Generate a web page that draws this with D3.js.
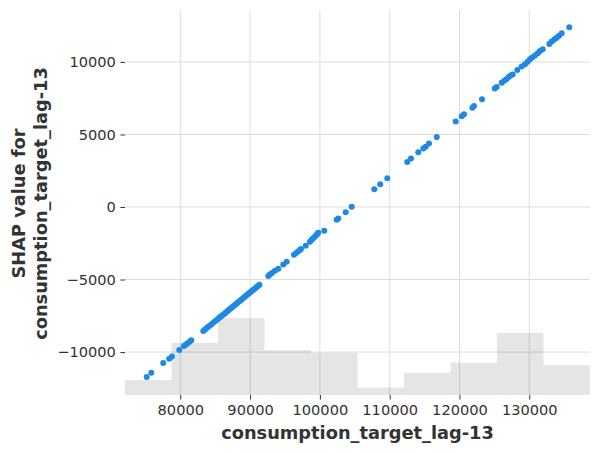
<!DOCTYPE html>
<html>
<head>
<meta charset="utf-8">
<script src="https://cdn.jsdelivr.net/npm/d3@7"></script>
<style>
	body { margin: 0; background: #fff; }
	text { font-family: "DejaVu Sans", sans-serif; }
</style>
</head>
<body>
<div id="chart"></div>
<script>
// feature value (x) and SHAP value (y) of each sample
const featureValues = [
	75190, 75850, 77560, 78420, 78810, 79860, 80530, 80820, 81100, 81390, 81580,
	83300, 83540, 83820, 84110, 84400, 84680, 84970, 85260, 85540, 85760, 85980,
	86230, 86450, 86700, 86920, 87150, 87400, 87610, 87860, 88090, 88320, 88560,
	88780, 89020, 89250, 89480, 89720, 89950, 90200, 90430, 90660, 90900, 91120, 91340,
	92610, 92850, 93130, 93560, 94040, 94760, 95240, 96290, 96580, 96860, 97150, 97290,
	97970, 98580, 98800, 99010, 99230, 99440, 99630, 99770, 100630, 102410, 102640,
	103700, 104560, 107800, 108650, 109660, 112520, 113050, 114100, 114820, 115160,
	115630, 116740, 119460, 120320, 120650, 121840, 122080, 123230, 125050, 125330,
	126050, 126420, 126760, 127090, 127380, 127620, 128280, 128910, 129390, 129770,
	130100, 130430, 130820, 131210, 131530, 131920, 132870, 133210, 133580, 133930,
	134260, 134640, 135730
];
const shapValues = [
	-11720, -11430, -10760, -10460, -10300, -9850, -9590, -9480, -9370, -9260, -9180,
	-8540, -8450, -8330, -8220, -8110, -7990, -7880, -7770, -7660, -7570, -7480,
	-7390, -7300, -7200, -7110, -7020, -6920, -6840, -6740, -6650, -6550, -6460,
	-6370, -6280, -6190, -6090, -6000, -5910, -5810, -5720, -5630, -5530, -5440, -5360,
	-4760, -4660, -4550, -4400, -4260, -3970, -3770, -3300, -3180, -3070, -2960, -2900,
	-2680, -2390, -2280, -2170, -2060, -1960, -1860, -1780, -1640, -880, -800,
	-360, 10, 1230, 1570, 1990, 3110, 3340, 3780, 4030, 4160,
	4370, 4830, 5890, 6260, 6400, 6850, 6970, 7430, 8160, 8280,
	8570, 8710, 8830, 8970, 9080, 9130, 9450, 9680, 9840, 10020,
	10190, 10300, 10440, 10600, 10760, 10880, 11240, 11400, 11540, 11670,
	11810, 11980, 12390
];

// background histogram of the feature
const histEdges = [72080, 78740, 85400, 92070, 98730, 105390, 112050, 118710, 125370, 132030, 138700];
const histCounts = [6, 21, 31, 18, 17, 3, 9, 13, 25, 12];

const xTicks = [80000, 90000, 100000, 110000, 120000, 130000];
const yTicks = [-10000, -5000, 0, 5000, 10000];
const yDomain = [-12960, 13580];

const xLabel = "consumption_target_lag-13";
const yLabelLines = ["SHAP value for", "consumption_target_lag-13"];

const width = 599, height = 453;
const margin = {left: 125, right: 9, top: 10, bottom: 58};
const innerBottom = height - margin.bottom;
const innerRight = width - margin.right;

const x = d3.scaleLinear()
	.domain([histEdges[0], histEdges[histEdges.length - 1]])
	.range([margin.left, innerRight]);

const y = d3.scaleLinear()
	.domain(yDomain)
	.range([innerBottom, margin.top]);

// histogram uses its own y axis: 0..number of samples
const total = d3.sum(histCounts);
const yHist = d3.scaleLinear()
	.domain([0, total])
	.range([innerBottom, margin.top]);

const svg = d3.select("#chart")
	.append("svg")
	.attr("width", width)
	.attr("height", height);

// grid
const grid = svg.append("g")
	.attr("stroke", "#dddddd")
	.attr("stroke-width", 1);

grid.selectAll(".gx")
	.data(xTicks).enter()
	.append("line")
	.attr("x1", d => x(d)).attr("x2", d => x(d))
	.attr("y1", margin.top).attr("y2", innerBottom);

grid.selectAll(".gy")
	.data(yTicks).enter()
	.append("line")
	.attr("x1", margin.left).attr("x2", innerRight)
	.attr("y1", d => y(d)).attr("y2", d => y(d));

// histogram bars
svg.append("g")
	.attr("fill", "#000")
	.attr("fill-opacity", 0.1)
	.selectAll("rect")
	.data(histCounts).enter()
	.append("rect")
	.attr("x", (d, i) => x(histEdges[i]))
	.attr("width", (d, i) => x(histEdges[i + 1]) - x(histEdges[i]))
	.attr("y", d => yHist(d))
	.attr("height", d => innerBottom - yHist(d));

// scatter
svg.append("g")
	.attr("fill", "#1E88E5")
	.selectAll("circle")
	.data(featureValues).enter()
	.append("circle")
	.attr("cx", d => x(d))
	.attr("cy", (d, i) => y(shapValues[i]))
	.attr("r", 3);

// axes
const fmt = d3.format("d");

const xAxis = svg.append("g")
	.attr("transform", `translate(0,${innerBottom})`)
	.call(d3.axisBottom(x).tickValues(xTicks).tickFormat(fmt).tickSizeInner(4.6).tickSizeOuter(0).tickPadding(4.6));

const yAxis = svg.append("g")
	.attr("transform", `translate(${margin.left},0)`)
	.call(d3.axisLeft(y).tickValues(yTicks).tickFormat(fmt).tickSizeInner(4.6).tickSizeOuter(0).tickPadding(4.6));

[xAxis, yAxis].forEach(a => {
	a.select(".domain").remove();
	a.selectAll(".tick line").attr("stroke", "#333333");
	a.selectAll(".tick text")
		.attr("fill", "#333333")
		.style("font-size", "14.6px")
		.style("font-family", "'DejaVu Sans', sans-serif");
});

// axis labels
svg.append("text")
	.attr("x", (margin.left + innerRight) / 2)
	.attr("y", 439)
	.attr("text-anchor", "middle")
	.attr("fill", "#333333")
	.style("font-size", "17.8px")
	.style("font-weight", "bold")
	.text(xLabel);

const yMid = (margin.top + innerBottom) / 2 + 1;
svg.append("g")
	.attr("fill", "#333333")
	.style("font-size", "17.8px")
	.style("font-weight", "bold")
	.selectAll("text")
	.data(yLabelLines).enter()
	.append("text")
	.attr("text-anchor", "middle")
	.attr("transform", (d, i) => `translate(${25 + i * 22},${yMid}) rotate(-90)`)
	.text(d => d);
</script>
</body>
</html>
